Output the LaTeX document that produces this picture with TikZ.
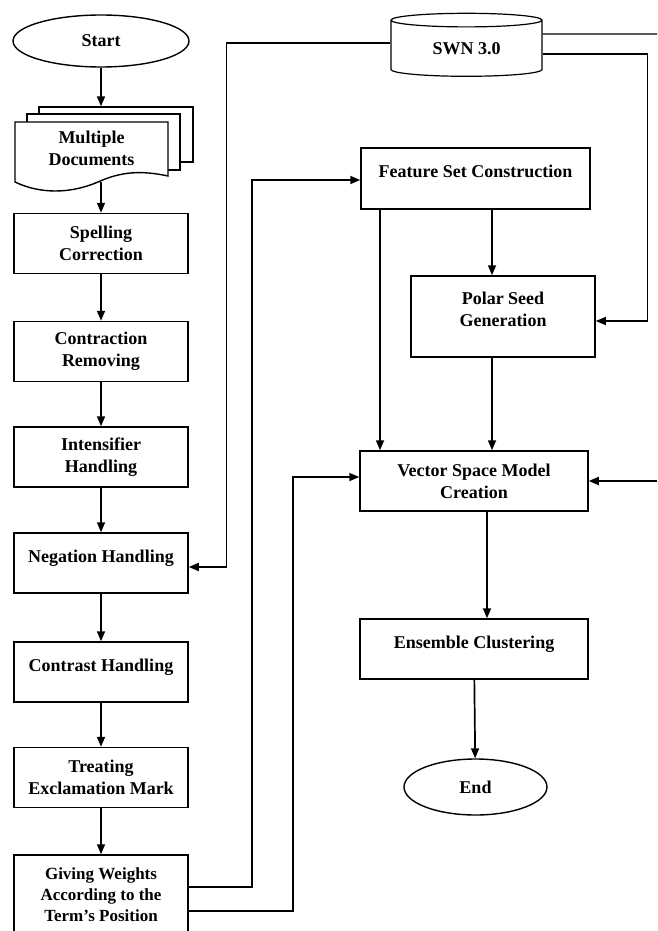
\documentclass[tikz,border=0pt]{standalone}
\usepackage{fontspec}
\setmainfont{Liberation Serif}
\usetikzlibrary{shapes.geometric,arrows.meta}

\begin{document}
\begin{tikzpicture}[x=1pt,y=1pt,
  box/.style={draw,line width=1.5pt,fill=white,minimum width=174pt,minimum height=60pt,align=center},
  oneline/.style={text height=12pt,text depth=14pt},
  sheet/.style={draw,line width=1.4pt,fill=white},
  term/.style={ellipse,draw,line width=1.4pt},
  arr/.style={line width=1.7pt,-{Triangle[length=10pt,width=8pt]}},
  thin/.style={line width=1.2pt}]
\tikzstyle{every node}+=[inner sep=0pt,font=\bfseries\fontsize{18}{22}\selectfont]
\clip (0,0) rectangle (657,-931);
\node[term,minimum width=176pt,minimum height=52pt] (start) at (101,-41) {Start};
\node[sheet,minimum width=154pt,minimum height=55pt] (docs3) at (116,-134.5) {};
\node[sheet,minimum width=153pt,minimum height=56pt] (docs2) at (103.5,-142) {};
\filldraw[line width=1.4pt,fill=white] (15,-122) -- (168,-122) -- (168,-176)
  .. controls (140,-170) and (120,-172) .. (98,-182)
  .. controls (70,-194) and (40,-194) .. (15,-182) -- cycle;
\node[align=center] (docs) at (91.5,-148) {Multiple\\Documents};
\coordinate (docsout) at (101,-182);
\node[box] (spell) at (101,-243.5) {Spelling\\Correction};
\node[box] (contr) at (101,-351.5) {Contraction\\Removing};
\node[box] (inten) at (101,-457) {Intensifier\\Handling};
\node[box,oneline] (neg) at (101,-563) {Negation Handling};
\node[box,oneline] (contra) at (101,-672) {Contrast Handling};
\node[box] (treat) at (101,-777.5) {Treating\\Exclamation Mark};
\node[box,minimum height=80pt,font=\bfseries\fontsize{17}{21}\selectfont] (weights) at (101,-895) {Giving Weights\\According to the\\Term's Position};
\node[cylinder,draw,thin,shape border rotate=90,aspect=0.2,minimum width=151pt,minimum height=63pt] (swn) at (466.5,-48.5) {SWN 3.0};
\node[box,oneline,minimum width=229pt,minimum height=61pt] (feature) at (475.5,-178.5) {Feature Set Construction};
\node[box,minimum width=184pt,minimum height=81pt] (polar) at (503,-316.5) {Polar Seed\\Generation\\[-8pt]\mbox{}};
\node[box,minimum width=228pt] (vsm) at (474,-481) {Vector Space Model\\Creation};
\node[box,oneline,minimum width=228pt] (ensem) at (474,-649) {Ensemble Clustering};
\node[term,minimum width=143pt,minimum height=56pt] (endn) at (475.5,-787) {End};
\coordinate (rimA) at (657,-34);
\coordinate (rimB) at (657,-481);
\draw[arr] (start) -- (start.south |- docs3.north);
\draw[arr] (docsout) -- (spell);
\draw[arr] (spell) -- (contr);
\draw[arr] (contr) -- (inten);
\draw[arr] (inten) -- (neg);
\draw[arr] (neg) -- (contra);
\draw[arr] (contra) -- (treat);
\draw[arr] (treat) -- (weights);
\draw[arr] ([yshift=5.5pt]swn.west) -- ++(-164,0) |- ([yshift=-4pt]neg.east);
\draw[thin] ([yshift=14.5pt]swn.east) -- (rimA);
\draw[arr,thin] ([yshift=-5.5pt]swn.east) -- ++(105,0) |- ([yshift=-4.5pt]polar.east);
\draw[arr] (rimB) -- (vsm.east);
\draw[arr] ([yshift=8pt]weights.east) -- ++(63,0) |- ([yshift=-1.5pt]feature.west);
\draw[arr] ([yshift=-16pt]weights.east) -- ++(104,0) |- ([yshift=4pt]vsm.west);
\draw[arr] ([xshift=16.5pt]feature.south) -- ([xshift=-11pt]polar.north);
\draw[arr] ([xshift=-95.5pt]feature.south) -- ([xshift=-94pt]vsm.north);
\draw[arr] ([xshift=-11pt]polar.south) -- ([xshift=18pt]vsm.north);
\draw[arr] ([xshift=13pt]vsm.south) -- ([xshift=13pt]ensem.north);
\draw[arr] (ensem) -- (endn);
\end{tikzpicture}
\end{document}
